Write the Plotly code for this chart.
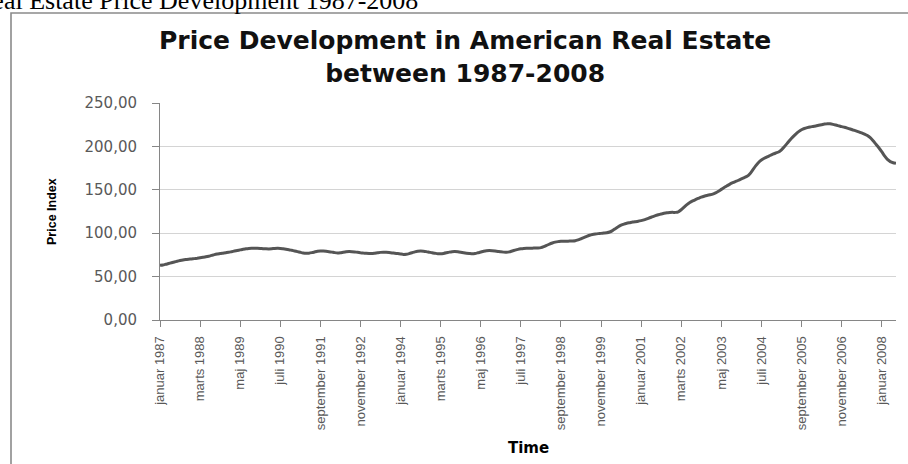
import plotly.graph_objects as go

# Danish month names used for the category labels
months = ["januar", "februar", "marts", "april", "maj", "juni",
          "juli", "august", "september", "oktober", "november", "december"]
years = list(range(1987, 2009))

# Monthly price index, one list per year
idx_1987 = [63.0, 63.4, 64.2, 65.1, 66.0, 66.9, 67.7, 68.5, 69.2, 69.7, 70.0, 70.3]
idx_1988 = [70.7, 71.2, 71.8, 72.3, 72.8, 73.5, 74.4, 75.3, 76.0, 76.6, 77.0, 77.4]
idx_1989 = [78.0, 78.7, 79.4, 80.1, 80.8, 81.5, 82.1, 82.5, 82.7, 82.8, 82.7, 82.5]
idx_1990 = [82.2, 82.0, 81.9, 82.1, 82.4, 82.6, 82.5, 82.1, 81.6, 81.0, 80.3, 79.6]
idx_1991 = [78.8, 78.0, 77.2, 76.8, 77.0, 77.6, 78.4, 79.2, 79.5, 79.4, 79.1, 78.7]
idx_1992 = [78.2, 77.6, 77.2, 77.5, 78.1, 78.6, 78.8, 78.7, 78.4, 78.0, 77.5, 77.1]
idx_1993 = [76.8, 76.6, 76.6, 77.0, 77.5, 77.9, 78.1, 78.0, 77.7, 77.3, 76.9, 76.5]
idx_1994 = [76.0, 75.6, 75.8, 76.5, 77.5, 78.5, 79.2, 79.5, 79.3, 78.8, 78.1, 77.4]
idx_1995 = [76.9, 76.4, 76.3, 76.7, 77.4, 78.2, 78.7, 78.8, 78.5, 78.0, 77.4, 76.9]
idx_1996 = [76.6, 76.3, 76.6, 77.4, 78.3, 79.2, 79.9, 80.1, 79.9, 79.5, 79.0, 78.5]
idx_1997 = [78.2, 78.0, 78.5, 79.5, 80.5, 81.4, 82.0, 82.4, 82.6, 82.7, 82.8, 82.9]
idx_1998 = [83.0, 83.4, 84.5, 86.0, 87.5, 88.7, 89.7, 90.3, 90.6, 90.8, 90.8, 90.9]
idx_1999 = [91.0, 91.3, 92.3, 93.6, 95.0, 96.4, 97.6, 98.5, 99.1, 99.5, 99.8, 100.2]
idx_2000 = [100.6, 101.4, 103.0, 105.2, 107.4, 109.2, 110.5, 111.4, 112.1, 112.8, 113.3, 113.8]
idx_2001 = [114.5, 115.3, 116.5, 117.8, 119.0, 120.2, 121.2, 122.1, 122.9, 123.5, 123.8, 124.0]
idx_2002 = [124.0, 124.6, 127.0, 130.0, 133.0, 135.4, 137.2, 138.8, 140.2, 141.5, 142.6, 143.5]
idx_2003 = [144.2, 145.0, 146.4, 148.3, 150.5, 152.6, 154.6, 156.6, 158.2, 159.6, 161.0, 162.6]
idx_2004 = [164.0, 165.5, 168.5, 173.0, 177.5, 181.5, 184.3, 186.3, 188.0, 189.5, 191.0, 192.4]
idx_2005 = [193.5, 196.0, 199.5, 203.5, 207.5, 211.0, 214.2, 217.0, 219.2, 220.6, 221.6, 222.4]
idx_2006 = [223.0, 223.6, 224.3, 225.0, 225.7, 226.2, 226.0, 225.4, 224.6, 223.7, 222.8, 222.0]
idx_2007 = [221.0, 220.0, 218.9, 217.9, 216.8, 215.6, 214.2, 212.5, 210.0, 206.5, 202.5, 198.5]
idx_2008 = [194.0, 189.0, 185.0, 182.5, 181.2, 180.5]

yearly = [idx_1987, idx_1988, idx_1989, idx_1990, idx_1991, idx_1992, idx_1993,
          idx_1994, idx_1995, idx_1996, idx_1997, idx_1998, idx_1999, idx_2000,
          idx_2001, idx_2002, idx_2003, idx_2004, idx_2005, idx_2006, idx_2007,
          idx_2008]

categories = []
values = []
for yr, vals in zip(years, yearly):
    for m, v in enumerate(vals):
        categories.append(f"{months[m]} {yr}")
        values.append(v)

tick_step = 14
tick_labels = categories[::tick_step]

# Pixel geometry of the plot area
W, H = 908, 464
L, R, T, B = 160, 896, 103, 320
pw, ph = R - L, B - T


def px_x(p):
    return (p - L) / pw


def px_y(p):
    return (B - p) / ph


fig = go.Figure()
fig.add_trace(go.Scatter(
    x=categories, y=values, mode="lines",
    line=dict(color="#555555", width=3, shape="spline", smoothing=0.5),
    hoverinfo="x+y", showlegend=False,
))

axis_grey = "#868686"
label_grey = "#595959"

fig.update_layout(
    width=W, height=H, autosize=False,
    margin=dict(l=L, r=W - R, t=T, b=H - B, pad=0),
    paper_bgcolor="white", plot_bgcolor="white",
    separators=", ",
    xaxis=dict(
        type="category", range=[0, len(categories) - 1],
        tickmode="array", tickvals=tick_labels, ticktext=tick_labels,
        tickangle=-90, ticks="outside", ticklen=6, tickcolor=axis_grey,
        showline=True, linecolor=axis_grey, linewidth=1,
        showgrid=False, zeroline=False,
        tickfont=dict(family="Liberation Sans, Arial", size=13, color=label_grey),
        ticklabelstandoff=4,
    ),
    yaxis=dict(
        range=[0, 250], dtick=50, tickformat=".2f",
        ticks="outside", ticklen=7, tickcolor=axis_grey,
        showline=True, linecolor=axis_grey, linewidth=1,
        showgrid=True, gridcolor="#d4d4d4", gridwidth=1.3,
        zeroline=False,
        tickfont=dict(family="DejaVu Sans", size=15, color=label_grey),
        ticklabelstandoff=12,
    ),
)

# Chart frame
fig.add_shape(type="rect", xref="paper", yref="paper",
              x0=px_x(11), x1=px_x(922), y0=px_y(480), y1=px_y(13),
              line=dict(color="#8a8a8a", width=1.6), fillcolor="rgba(0,0,0,0)",
              layer="below")

# Caption above the frame
fig.add_annotation(
    text="Real Estate Price Development 1987-2008",
    xref="paper", yref="paper", x=px_x(420), y=px_y(17),
    xanchor="right", yanchor="bottom", showarrow=False,
    font=dict(family="Liberation Serif, Times New Roman", size=26, color="black"),
)

# Chart title
fig.add_annotation(
    text="Price Development in American Real Estate<br>between 1987-2008",
    xref="paper", yref="paper", x=px_x(465), y=px_y(57),
    xanchor="center", yanchor="middle", showarrow=False,
    font=dict(family="DejaVu Sans", size=25, color="#111111", weight="bold"),
)

# Axis titles
fig.add_annotation(
    text="Price Index", textangle=-90,
    xref="paper", yref="paper", x=px_x(52), y=px_y(211),
    xanchor="center", yanchor="middle", showarrow=False,
    font=dict(family="Liberation Sans, Arial", size=12.5, color="black", weight="bold"),
)
fig.add_annotation(
    text="Time",
    xref="paper", yref="paper", x=px_x(528), y=px_y(448),
    xanchor="center", yanchor="middle", showarrow=False,
    font=dict(family="DejaVu Sans", size=15, color="black", weight="bold"),
)

fig.write_html("out.html")
